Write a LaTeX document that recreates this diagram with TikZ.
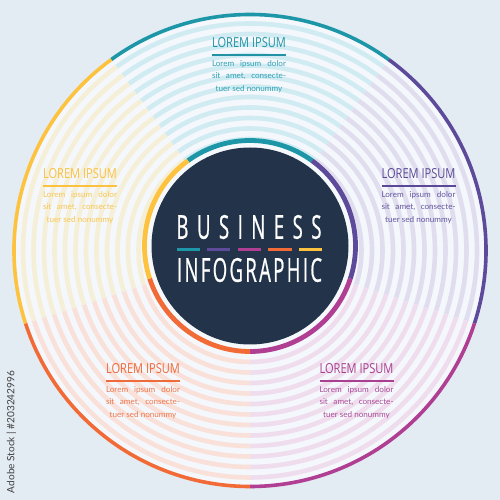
\documentclass[tikz,border=0pt]{standalone}
\usepackage{graphicx}
\usepackage{fontspec}
\setmainfont{Lato}
\newfontfamily\titlefont[FakeStretch=0.7]{Open Sans}
\newfontfamily\condfont[FakeStretch=0.56,FakeBold=0.6]{Open Sans}
\newfontfamily\bodyfont{Lato}
\definecolor{bg}{HTML}{E3EBF3}
\definecolor{gapc}{HTML}{F4F7FB}
\definecolor{innerw}{HTML}{F6F9FC}
\definecolor{darkc}{HTML}{22334A}
\definecolor{tealR}{HTML}{1D97A8}\definecolor{tealT}{HTML}{D0EBF2}\definecolor{tealH}{HTML}{2193A5}\definecolor{tealB}{HTML}{2FA2B3}
\definecolor{purR}{HTML}{5D4A9A}\definecolor{purT}{HTML}{E0DEEE}\definecolor{purH}{HTML}{5B4896}\definecolor{purB}{HTML}{6656A0}
\definecolor{magR}{HTML}{B03E93}\definecolor{magT}{HTML}{EFDDED}\definecolor{magH}{HTML}{A8408F}\definecolor{magB}{HTML}{AA4A96}
\definecolor{orR}{HTML}{F26A36}\definecolor{orT}{HTML}{F9E0D9}\definecolor{orH}{HTML}{EE6B3B}\definecolor{orB}{HTML}{EF774B}
\definecolor{yeR}{HTML}{FDC33F}\definecolor{yeT}{HTML}{F6EFD8}\definecolor{yeH}{HTML}{FBC13F}\definecolor{yeB}{HTML}{F8C850}
\tikzset{
  body/.style={inner sep=0pt, text height=5.8pt, text depth=1.7pt, font=\bodyfont\fontsize{8.1}{9}\selectfont},
  big/.style={inner sep=0pt, text=white, font=\condfont\fontsize{33}{33}\selectfont},
}
\newcommand\infosector[4]{%
  \begin{scope}
    \clip (250,249.5) -- ++(#1:245) arc[start angle=#1, end angle=#2, radius=245] -- cycle;
    \fill[gapc] (250,249.5) circle[radius=236];
    \foreach \rr in {227,216.5,...,110} \draw[#3, line width=4.6pt] (250,249.5) circle[radius=\rr];
  \end{scope}
}
\newcommand\outerarc[3]{%
  \draw[#3, line width=3.6pt] (250,249.5) ++(#1:236) arc[start angle=#1, end angle=#2, radius=236];
}
\newcommand\innerarc[3]{%
  \draw[#3, line width=4.8pt] (250,254) ++(#1:105.5) arc[start angle=#1, end angle=#2, radius=105.5];
}
\newcommand\infoblock[5]{%
  \node[inner sep=0pt, text=#3] (#5t) at (#1, {500-#2}) {\resizebox{74pt}{10pt}{\titlefont LOREM IPSUM}};
  \coordinate (#5a) at ({#1-37}, {500-#2-12});
  \coordinate (#5b) at ({#1+37}, {500-#2-12});
  \draw[#3, line width=1.8pt] (#5a) -- (#5b);
  \node[body, text=#4] (#5p) at (#1, {500-#2-21.3}) {\makebox[74pt][s]{Lorem\hfill ipsum\hfill dolor}};
  \node[body, text=#4] (#5q) at (#1, {500-#2-33.7}) {\makebox[74pt][s]{sit\hfill amet,\hfill consecte-}};
  \node[body, text=#4] (#5r) at (#1, {500-#2-46}) {tuer sed nonummy};
}
\begin{document}
\begin{tikzpicture}[x=1pt,y=1pt]
\fill[bg] (0,0) rectangle (500,500);
\useasboundingbox (0,0) rectangle (500,500);
% sectors
\infosector{54}{126}{tealT}{tealR}
\infosector{-18}{54}{purT}{purR}
\infosector{-90}{-18}{magT}{magR}
\infosector{-162}{-90}{orT}{orR}
\infosector{126}{198}{yeT}{yeR}
\outerarc{54}{126}{tealR}
\outerarc{-18}{54}{purR}
\outerarc{-90}{-18}{magR}
\outerarc{-162}{-90}{orR}
\outerarc{126}{198}{yeR}
% inner
\fill[innerw] (250,254) circle[radius=103.3];
\innerarc{54}{126}{tealR}
\innerarc{-18}{54}{purR}
\innerarc{-90}{-18}{magR}
\innerarc{-162}{-90}{orR}
\innerarc{126}{198}{yeR}
\fill[darkc] (250,254) circle[radius=98.5];
% center text
\node[big] (bus) at (249,273) {\makebox[145pt][s]{B\hfill U\hfill S\hfill I\hfill N\hfill E\hfill S\hfill S}};
\node[big] (inf) at (249.5,230) {\makebox[145pt][s]{I\hfill N\hfill F\hfill O\hfill G\hfill R\hfill A\hfill P\hfill H\hfill I\hfill C}};
\foreach \xa/\xb/\cc/\nm in {177/200/tealR/da, 207/230/purR/db, 238/261/magR/dc, 268/292/orR/dd, 299/322/yeR/de}{
  \coordinate (\nm1) at (\xa,250);
  \coordinate (\nm2) at (\xb,250);
  \draw[\cc, line width=3pt] (\nm1) -- (\nm2);
}
% text blocks
\infoblock{249}{43}{tealH}{tealB}{top}
\infoblock{418.5}{174}{purH}{purB}{rgt}
\infoblock{80}{174}{yeH}{yeB}{lft}
\infoblock{143}{369}{orH}{orB}{bl}
\infoblock{356.5}{369}{magH}{magB}{br}
% side watermark text
\node[rotate=90, inner sep=0pt, text=black!75, font=\bodyfont\fontsize{8.5}{9}\selectfont] (wm) at (11.5,68) {\resizebox{122pt}{!}{Adobe Stock | \#203242996}};
\end{tikzpicture}
\end{document}
